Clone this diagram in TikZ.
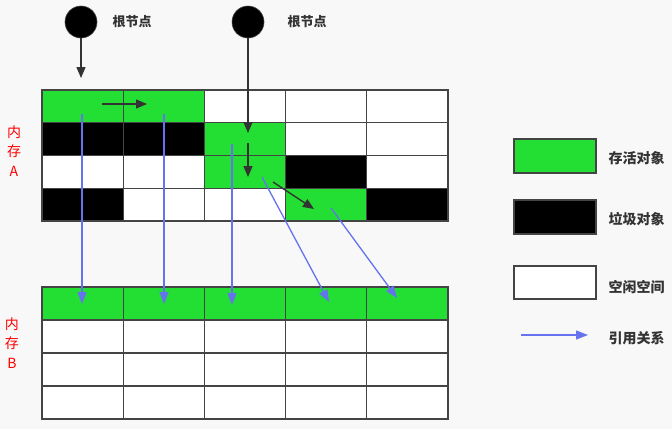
\documentclass[tikz,border=0pt]{standalone}
\usepackage{fontspec}
\setmainfont{Noto Sans CJK SC}
\usetikzlibrary{arrows.meta,calc}
\definecolor{bgc}{HTML}{F8F8F8}
\definecolor{gc}{HTML}{24DF33}
\definecolor{gridc}{HTML}{444444}
\definecolor{bluec}{HTML}{6673EE}
\definecolor{txtc}{HTML}{333333}
\tikzset{
  cellbox/.style={draw=gridc, line width=1.3pt, inner sep=0pt, minimum width=81.2pt, minimum height=32.8pt},
  g/.style={cellbox, fill=gc},
  b/.style={cellbox, fill=black},
  w/.style={cellbox, fill=white},
  blkarrow/.style={draw=txtc, line width=1.4pt, -{Triangle[length=11pt,width=9pt]}},
  bluearrow/.style={draw=bluec, line width=1.3pt, -{Triangle[length=12pt,width=9pt]}},
  rootnode/.style={circle, fill=black, draw=gridc, line width=0.6pt, minimum size=32pt, inner sep=0pt},
  rootlabel/.style={font=\fontsize{13}{15}\selectfont\bfseries, text=txtc},
  legendlabel/.style={font=\fontsize{14}{16}\selectfont\bfseries, text=txtc, anchor=west},
  memlabel/.style={font=\fontsize{14}{19.5}\selectfont, text=red, align=center},
  legbox/.style={draw=gridc, line width=1.3pt, inner sep=0pt, minimum width=82pt, minimum height=34pt}
}
\begin{document}
\begin{tikzpicture}[x=1pt,y=-1pt]
\fill[bgc] (0,0) rectangle (672,429);
\useasboundingbox (0,0) rectangle (672,429);
% grid A
\foreach \cols [count=\i] in {{g,g,w,w,w},{b,b,g,w,w},{w,w,g,b,w},{b,w,w,g,b}}{
  \foreach \c [count=\j] in \cols {
    \node[\c] (A-\i-\j) at ({42+81.2*(\j-0.5)},{90+32.75*(\i-0.5)}) {};
  }
}
% grid B
\foreach \cols [count=\i] in {{g,g,g,g,g},{w,w,w,w,w},{w,w,w,w,w},{w,w,w,w,w}}{
  \foreach \c [count=\j] in \cols {
    \node[\c] (B-\i-\j) at ({42+81.2*(\j-0.5)},{287+33*(\i-0.5)}) {};
  }
}
% roots
\node[rootnode] (r1) at (81,22) {};
\node[rootnode] (r2) at (248,22) {};
\node[rootlabel] (l1) at (132,22) {根节点};
\node[rootlabel] (l2) at (307,22) {根节点};
% memory labels
\node[memlabel] (mA) at (14,151) {内\\存\\A};
\node[memlabel] (mB) at (12,343) {内\\存\\B};
% black arrows
\coordinate (t1) at (81,78);
\coordinate (t2) at (248,133);
\coordinate (s3) at (102,104);
\coordinate (t3) at (147,104);
\coordinate (s4) at (248,143);
\coordinate (t4) at (248,177);
\coordinate (s5) at (273,182);
\coordinate (t5) at (314,209);
\draw[blkarrow] (r1.south) -- (t1);
\draw[blkarrow] (r2.south) -- (t2);
\draw[blkarrow] (s3) -- (t3);
\draw[blkarrow] (s4) -- (t4);
\draw[blkarrow] (s5) -- (t5);
% blue arrows
\coordinate (u1) at (82,114);  \coordinate (v1) at (82,304);
\coordinate (u2) at (164,114); \coordinate (v2) at (164,304);
\coordinate (u3) at (232,144); \coordinate (v3) at (232,305);
\coordinate (u4) at (262,177); \coordinate (v4) at (329,302);
\coordinate (u5) at (331,208); \coordinate (v5) at (397,298);
\foreach \k in {1,...,5}{ \draw[bluearrow] (u\k) -- (v\k); }
% legend
\node[legbox, fill=gc] (k1) at (555,156) {};
\node[legbox, fill=black] (k2) at (555,217) {};
\node[legbox, fill=white, minimum height=33pt] (k3) at (555,282.5) {};
\coordinate (k4s) at (521,335);
\coordinate (k4t) at (588,335);
\draw[bluearrow] (k4s) -- (k4t);
\node[legendlabel] (n1) at (605,158) {存活对象};
\node[legendlabel] (n2) at (605,219) {垃圾对象};
\node[legendlabel] (n3) at (605,287) {空闲空间};
\node[legendlabel] (n4) at (605,338) {引用关系};
\end{tikzpicture}
\end{document}
